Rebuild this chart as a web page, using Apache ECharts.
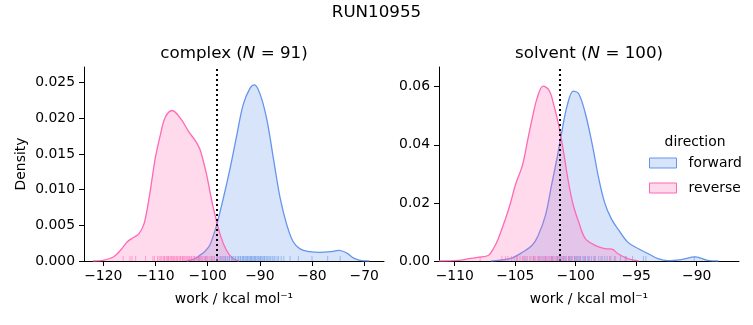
<!DOCTYPE html>
<html>
<head>
<meta charset="utf-8">
<script src="https://cdn.jsdelivr.net/npm/echarts@6/dist/echarts.min.js"></script>
<style>html,body{margin:0;padding:0;background:#fff}#c{width:753px;height:325px}</style>
</head>
<body>
<div id="c"></div>
<script>
// ---- data ----
const suptitle = 'RUN10955';
const xTicksComplex = [-120, -110, -100, -90, -80, -70];
const yTicksComplex = [0, 0.005, 0.01, 0.015, 0.02, 0.025];
const xTicksSolvent = [-110, -105, -100, -95, -90];
const yTicksSolvent = [0, 0.02, 0.04, 0.06];

// KDE curves [work, density]
const complexForwardKde = [[-104,0],[-102.5,0.0003],[-101.5,0.0008],[-100.6,0.0013],[-99.6,0.0022],[-98.3,0.005],[-97,0.0088],[-95.7,0.013],[-94.4,0.0177],[-93.2,0.0219],[-91.9,0.0242],[-91.05,0.0247],[-90,0.0235],[-88.7,0.02],[-87.4,0.0144],[-86.1,0.0088],[-84.8,0.005],[-83.6,0.0027],[-82.3,0.0017],[-80.4,0.0013],[-78.5,0.0012],[-76.5,0.0013],[-74.8,0.0015],[-73.3,0.0011],[-72,0.0004],[-70.8,0.0001],[-69,0]];
const complexReverseKde = [[-122,0],[-120,0.0001],[-118,0.0006],[-116.7,0.0015],[-115.4,0.0027],[-114.2,0.0033],[-113.2,0.0038],[-112.2,0.0052],[-111.3,0.0085],[-110.6,0.0118],[-110,0.0146],[-109,0.0179],[-108.1,0.0202],[-106.8,0.0211],[-105.2,0.02],[-103.6,0.0181],[-102.4,0.0169],[-101.5,0.0157],[-100.9,0.0142],[-100.2,0.0121],[-98.9,0.0074],[-97.6,0.0037],[-96.4,0.0015],[-95.1,0.0003],[-94,0]];
const solventForwardKde = [[-107,0],[-106.4,0.0002],[-105.3,0.001],[-104.4,0.003],[-103.6,0.0054],[-103.1,0.0088],[-102.5,0.0157],[-102,0.026],[-101.5,0.0364],[-101.1,0.0456],[-100.7,0.0536],[-100.2,0.0585],[-99.75,0.0576],[-99.2,0.0508],[-98.6,0.0395],[-98.1,0.0285],[-97.6,0.02],[-97.05,0.0145],[-96.5,0.011],[-95.7,0.0065],[-94.85,0.0043],[-94,0.0025],[-93.2,0.0008],[-92.4,0.0001],[-91.3,0.0005],[-90.1,0.0014],[-89.1,0.0002],[-88.2,0]];
const solventReverseKde = [[-111.3,0],[-109.7,0.0002],[-108.8,0.0008],[-108,0.0013],[-107.2,0.002],[-106.8,0.0043],[-106.4,0.0077],[-105.8,0.0146],[-105.4,0.0198],[-105,0.026],[-104.4,0.033],[-104,0.041],[-103.6,0.049],[-103.2,0.0559],[-102.7,0.0602],[-102.2,0.0588],[-101.8,0.0536],[-101.4,0.0467],[-101,0.0375],[-100.6,0.0272],[-100.2,0.0192],[-99.75,0.0134],[-99.2,0.0077],[-98.4,0.0054],[-97.6,0.0043],[-97,0.0041],[-96.5,0.0025],[-95.7,0.0008],[-94.8,0]];

// rug (individual work values)
const complexForwardRug = [-101.6,-100.4,-99.3,-98.7,-98.1,-97.6,-97.4,-97.0,-96.7,-96.6,-96.2,-95.9,-95.8,-95.4,-95.3,-95.0,-94.7,-94.6,-94.2,-94.1,-93.8,-93.7,-93.4,-93.3,-93.1,-93.0,-92.7,-92.6,-92.4,-92.3,-92.1,-91.9,-91.8,-91.6,-91.5,-91.3,-91.1,-91.0,-90.8,-90.7,-90.4,-90.3,-90.1,-89.9,-89.8,-89.6,-89.4,-89.2,-89.1,-88.8,-88.6,-88.4,-88.1,-87.9,-87.6,-87.3,-87.1,-86.7,-86.4,-85.9,-85.4,-84.2,-82.6,-80.0,-77.0,-74.6];
const complexReverseRug = [-116.2,-114.9,-114.5,-113.8,-111.9,-110.5,-110.2,-109.6,-109.3,-109.0,-108.8,-108.5,-108.3,-108.2,-107.9,-107.7,-107.5,-107.4,-107.1,-106.9,-106.7,-106.5,-106.4,-106.1,-105.9,-105.8,-105.5,-105.3,-105.2,-104.9,-104.8,-104.6,-104.4,-104.2,-104.0,-103.8,-103.6,-103.5,-103.2,-103.1,-102.8,-102.6,-102.5,-102.2,-102.0,-101.8,-101.7,-101.4,-101.2,-101.0,-100.7,-100.5,-100.2,-100.0,-99.7,-99.3,-99.1,-98.8,-98.3,-97.8,-97.2,-96.5];
const solventForwardRug = [-104.2,-103.5,-103.1,-102.7,-102.5,-102.2,-102.0,-101.9,-101.6,-101.5,-101.3,-101.2,-101.0,-100.9,-100.8,-100.6,-100.5,-100.4,-100.3,-100.1,-100.0,-99.9,-99.8,-99.7,-99.6,-99.4,-99.3,-99.2,-99.0,-98.9,-98.7,-98.5,-98.4,-98.1,-97.9,-97.6,-97.4,-97.1,-96.8,-96.3,-95.9,-95.3,-94.4,-94.2,-90.2];
const solventReverseRug = [-107.9,-106.1,-105.8,-105.6,-105.3,-105.1,-104.9,-104.8,-104.6,-104.4,-104.3,-104.1,-104.0,-103.8,-103.7,-103.5,-103.4,-103.3,-103.1,-103.0,-102.9,-102.8,-102.6,-102.5,-102.4,-102.3,-102.1,-102.0,-101.9,-101.8,-101.7,-101.5,-101.4,-101.3,-101.1,-101.0,-100.8,-100.6,-100.5,-100.3,-100.1,-99.9,-99.6,-99.2,-98.9,-98.4,-97.8,-97.2,-96.7,-95.8];

const complexMean = -98.27;
const solventMean = -101.33;

// ---- style ----
const FONT = 'DejaVu Sans';
const BLUE = '#6495ED', PINK = '#FF69B4';
const BLUE_FILL = 'rgba(100,149,237,0.25)', PINK_FILL = 'rgba(255,105,180,0.25)';
const fmtMinus = v => String(v).replace('-', '\u2212');

function xAxis(grid, min, max, ticks) {
  return {
    type: 'value', gridIndex: grid, min: min, max: max,
    name: 'work / kcal mol\u207B\u00B9', nameLocation: 'middle', nameGap: 31,
    nameTextStyle: { fontFamily: FONT, fontSize: 13.9, color: '#000' },
    axisLine: { show: true, onZero: false, lineStyle: { color: '#000', width: 1 } },
    axisTick: { show: true, inside: false, length: 5, lineStyle: { color: '#000', width: 1 }, customValues: ticks },
    axisLabel: { show: true, margin: 8, fontFamily: FONT, fontSize: 13.9, color: '#000', customValues: ticks, formatter: fmtMinus },
    splitLine: { show: false }
  };
}
function yAxis(grid, max, ticks, digits, name) {
  return {
    type: 'value', gridIndex: grid, min: 0, max: max,
    name: name || '', nameLocation: 'middle', nameGap: 56,
    nameTextStyle: { fontFamily: FONT, fontSize: 13.9, color: '#000' },
    axisLine: { show: true, lineStyle: { color: '#000', width: 1 } },
    axisTick: { show: true, inside: false, length: 5, lineStyle: { color: '#000', width: 1 }, customValues: ticks },
    axisLabel: { show: true, margin: 9, fontFamily: FONT, fontSize: 13.9, color: '#000', customValues: ticks, formatter: v => v.toFixed(digits) },
    splitLine: { show: false }
  };
}
function kde(name, data, grid, color, fill, z) {
  return {
    type: 'line', name: name, xAxisIndex: grid, yAxisIndex: grid, data: data,
    smooth: 0.35, showSymbol: false, symbol: 'none', z: z,
    lineStyle: { color: color, width: 1.3 }, itemStyle: { color: color },
    areaStyle: { color: fill, opacity: 1 }, silent: true
  };
}
function rug(name, vals, grid, color) {
  return {
    type: 'scatter', name: name, xAxisIndex: grid, yAxisIndex: grid,
    data: vals.map(v => [v, 0]), symbol: 'rect', symbolSize: [1, 5], symbolOffset: [0, -2.5],
    itemStyle: { color: color, opacity: 0.55 }, clip: false, z: 5, silent: true
  };
}
function meanLine(val, grid) {
  return {
    type: 'line', xAxisIndex: grid, yAxisIndex: grid, data: [], silent: true, z: 10,
    markLine: { silent: true, symbol: 'none', animation: false, label: { show: false },
      lineStyle: { color: '#000', width: 2, type: [2, 3], cap: 'butt' }, data: [{ xAxis: val }] }
  };
}

const chart = echarts.init(document.getElementById('c'), null, { renderer: 'canvas' });
chart.setOption({
  animation: false,
  backgroundColor: '#fff',
  grid: [
    { left: 84, top: 67, width: 300, height: 194 },
    { left: 439, top: 67, width: 300, height: 194 }
  ],
  xAxis: [xAxis(0, -123.7, -66.2, xTicksComplex), xAxis(1, -111.3, -86.5, xTicksSolvent)],
  yAxis: [yAxis(0, 0.0272, yTicksComplex, 3, 'Density'), yAxis(1, 0.0668, yTicksSolvent, 2)],
  legend: {
    orient: 'vertical', left: 649, top: 156, padding: 0,
    itemWidth: 27, itemHeight: 10, itemGap: 11,
    textStyle: { fontFamily: FONT, fontSize: 13.9, color: '#000', padding: [0, 0, 0, 7] },
    data: [
      { name: 'forward', icon: 'rect', itemStyle: { color: BLUE_FILL, borderColor: BLUE, borderWidth: 1 } },
      { name: 'reverse', icon: 'rect', itemStyle: { color: PINK_FILL, borderColor: PINK, borderWidth: 1 } }
    ],
    selectedMode: false
  },
  graphic: [
    { type: 'text', x: 376.5, y: 13, style: { text: suptitle, fill: '#000', font: '16.7px "DejaVu Sans"', align: 'center', verticalAlign: 'middle' } },
    { type: 'text', x: 234, y: 54, style: { text: 'complex ({i|N} = 91)', fill: '#000', font: '16.7px "DejaVu Sans"', align: 'center', verticalAlign: 'middle',
      rich: { i: { fontStyle: 'italic', fontFamily: FONT, fontSize: 16.7 } } } },
    { type: 'text', x: 589, y: 54, style: { text: 'solvent ({i|N} = 100)', fill: '#000', font: '16.7px "DejaVu Sans"', align: 'center', verticalAlign: 'middle',
      rich: { i: { fontStyle: 'italic', fontFamily: FONT, fontSize: 16.7 } } } },
    { type: 'text', x: 695, y: 142, style: { text: 'direction', fill: '#000', font: '13.9px "DejaVu Sans"', align: 'center', verticalAlign: 'middle' } }
  ],
  series: [
    kde('forward', complexForwardKde, 0, BLUE, BLUE_FILL, 2),
    kde('reverse', complexReverseKde, 0, PINK, PINK_FILL, 3),
    kde('forward', solventForwardKde, 1, BLUE, BLUE_FILL, 2),
    kde('reverse', solventReverseKde, 1, PINK, PINK_FILL, 3),
    rug('forward', complexForwardRug, 0, BLUE),
    rug('reverse', complexReverseRug, 0, PINK),
    rug('forward', solventForwardRug, 1, BLUE),
    rug('reverse', solventReverseRug, 1, PINK),
    meanLine(complexMean, 0),
    meanLine(solventMean, 1)
  ]
});
</script>
</body>
</html>
